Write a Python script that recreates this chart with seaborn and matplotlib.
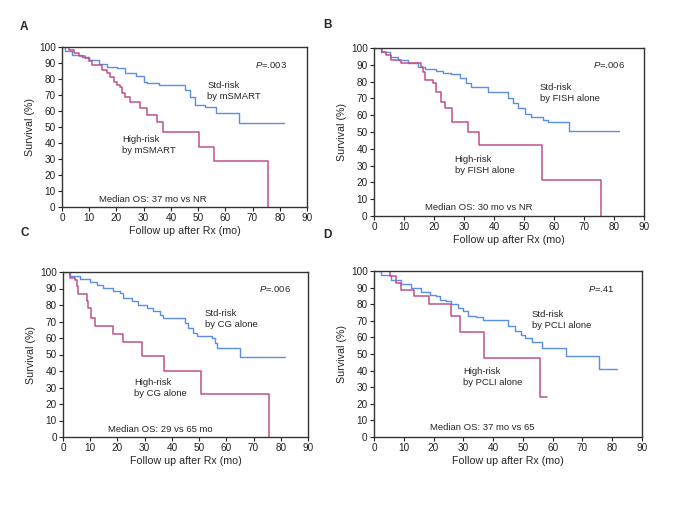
import matplotlib
matplotlib.use("Agg")
import matplotlib.pyplot as plt
import seaborn as sns
import pandas as pd

sns.set_style("ticks")
plt.rcParams['font.family'] = ['Liberation Sans', 'DejaVu Sans']
plt.rcParams['mathtext.fontset'] = 'custom'
plt.rcParams['mathtext.it'] = 'Liberation Sans:italic'
plt.rcParams['mathtext.rm'] = 'Liberation Sans'

# ---------------- data ----------------
A_std_t = [0, 1.2, 3.7, 7.4, 9.8, 13.5, 16.5, 20.2, 23.3, 27, 30, 31.3, 35.5, 45.3, 47.2, 49, 52.7, 56.4, 65, 81.5]
A_std_s = [100, 97.3, 95.2, 94, 92, 89.5, 87.8, 86.8, 83.6, 81.6, 78.4, 77.4, 76.3, 73.2, 69, 63.7, 62.7, 58.5, 52.2, 52.2]
A_high_t = [0, 2.5, 4.3, 6.1, 8.6, 9.8, 11, 14.7, 16.5, 17.8, 19, 20.2, 21.4, 22, 23.3, 25, 28.8, 31.2, 35, 37, 50.5, 56, 75.5]
A_high_s = [100, 98, 96.2, 94.5, 93, 91, 89, 85.7, 83.6, 81.5, 78.4, 76.3, 75.3, 71, 69, 65.8, 61.6, 57.4, 53.2, 47, 37.5, 28.5, 0]

B_std_t = [0, 2.4, 5.2, 8, 11.3, 14.7, 16.9, 20.8, 23, 25.8, 28.6, 30.8, 32.4, 38, 44.7, 46.3, 48, 50.2, 52.4, 56.3, 58, 65, 81.5]
B_std_s = [100, 97.8, 94.8, 92.9, 90.9, 88.9, 87.5, 86.5, 84.9, 84.3, 81.9, 79, 77, 74, 70, 67, 64, 61, 59, 57, 56, 50.6, 50.6]
B_high_t = [0, 2.6, 4.1, 5.8, 9.1, 15.8, 16.3, 17, 19.7, 20.8, 22.4, 23.6, 26, 31.3, 35, 56, 75.5]
B_high_s = [100, 97.8, 95.8, 92.9, 90.9, 88.9, 85.9, 81, 79, 74, 68, 64, 56, 50.2, 42.3, 21.4, 0]

C_std_t = [0, 2.6, 6.2, 9.9, 12.4, 14.8, 18.5, 20.9, 22.2, 25.2, 27.7, 30.7, 33.2, 35.6, 36.8, 44.8, 46, 47.9, 49.1, 54.6, 55.8, 56.4, 65, 81.5]
C_std_s = [100, 97.8, 95.8, 93.7, 92.3, 90.3, 88.3, 87.3, 84.2, 82.2, 80.2, 78.2, 76.2, 74.1, 72.1, 69.1, 66, 63, 61, 60, 57, 53.9, 48.3, 48.3]
C_high_t = [0, 2.6, 4.4, 5, 5.6, 8.7, 9.3, 10.2, 11.8, 18.5, 22.2, 28.9, 37.2, 50.6, 75.8]
C_high_s = [100, 96.4, 95.4, 91.3, 86.7, 82.2, 78.2, 72.1, 67.1, 62.4, 57.6, 49.3, 39.8, 26.3, 0]

D_std_t = [0, 2.5, 5.8, 9.2, 12.5, 15.9, 18.7, 20.9, 22.1, 24.3, 26, 28.2, 29.9, 31.6, 34.4, 36.6, 45, 47.3, 49.5, 50.6, 53, 56.5, 64.6, 75.6, 81.5]
D_std_s = [100, 97.4, 94.8, 92.2, 89.8, 87.3, 85.3, 84.7, 82.7, 81.7, 80.1, 77.7, 75.7, 72.7, 72.1, 70.7, 66.7, 63.7, 61.6, 59.6, 57, 53.6, 48.6, 41, 41]
D_high_t = [0, 5.3, 7.5, 9, 13.3, 18.4, 25.8, 28.8, 37, 55.7, 58]
D_high_s = [100, 96.8, 92.8, 88.8, 84.7, 80.3, 73.1, 63, 47.6, 24.1, 24.1]

panel_letters = ["A", "B", "C", "D"]
p_values = ["$P$=.003", "$P$=.006", "$P$=.006", "$P$=.41"]
std_labels = ["Std-risk\nby mSMART", "Std-risk\nby FISH alone", "Std-risk\nby CG alone", "Std-risk\nby PCLI alone"]
high_labels = ["High-risk\nby mSMART", "High-risk\nby FISH alone", "High-risk\nby CG alone", "High-risk\nby PCLI alone"]
median_labels = ["Median OS: 37 mo vs NR", "Median OS: 30 mo vs NR", "Median OS: 29 vs 65 mo", "Median OS: 37 mo vs 65"]
x_ticks = list(range(0, 100, 10))
y_ticks = list(range(0, 110, 10))

curves = [
    (A_std_t, A_std_s, A_high_t, A_high_s),
    (B_std_t, B_std_s, B_high_t, B_high_s),
    (C_std_t, C_std_s, C_high_t, C_high_s),
    (D_std_t, D_std_s, D_high_t, D_high_s),
]

# ---------------- layout ----------------
W, H = 689, 508
fig = plt.figure(figsize=(W / 100, H / 100), dpi=100)
fig.patch.set_facecolor("white")

# axes boxes in pixels: left, top, right, bottom
boxes = [(62, 47, 307, 207), (374, 48, 644, 216), (63, 272, 308, 437), (374, 271, 642, 437)]
letter_pos = [(24, 27), (327, 25), (25, 233), (327, 235)]
p_pos = [(71, 89), (73, 90), (72, 90), (72, 89.4)]
std_pos = [(53.3, 72.5), (55.2, 73.2), (52, 71.5), (53, 70.5)]
high_pos = [(22, 38.5), (26.9, 30.5), (26, 29.5), (30, 36.3)]
med_pos = [(13.5, 5), (17, 5), (16.6, 4.4), (18.7, 5.8)]

BLUE = "#5b8ee6"
PINK = "#c2508c"
FS = 7.2
AFS = 6.8

for i in range(4):
    l, t, r, b = boxes[i]
    ax = fig.add_axes([l / W, (H - b) / H, (r - l) / W, (b - t) / H])
    st, ss, ht, hs = curves[i]
    df_std = pd.DataFrame({"time": st, "surv": ss})
    df_high = pd.DataFrame({"time": ht, "surv": hs})
    sns.lineplot(data=df_std, x="time", y="surv", ax=ax, color=BLUE, lw=1.0,
                 drawstyle="steps-post", estimator=None, sort=False)
    sns.lineplot(data=df_high, x="time", y="surv", ax=ax, color=PINK, lw=1.1,
                 drawstyle="steps-post", estimator=None, sort=False)
    ax.set_xlim(0, 90)
    ax.set_ylim(0, 100)
    ax.set_xticks(x_ticks)
    ax.set_yticks(y_ticks)
    ax.tick_params(labelsize=FS, length=3, width=0.8, pad=1.5, colors="#222222")
    for sp in ax.spines.values():
        sp.set_visible(True)
        sp.set_linewidth(1.0)
        sp.set_color("#333333")
    ax.set_xlabel("Follow up after Rx (mo)", fontsize=FS + 0.5, labelpad=2)
    ax.set_ylabel("Survival (%)", fontsize=FS + 0.5, labelpad=3)
    ax.text(*p_pos[i], p_values[i], fontsize=AFS, ha="left", va="center")
    ax.text(*std_pos[i], std_labels[i], fontsize=AFS, ha="left", va="center", linespacing=1.3)
    ax.text(*high_pos[i], high_labels[i], fontsize=AFS, ha="left", va="center", linespacing=1.3)
    ax.text(*med_pos[i], median_labels[i], fontsize=AFS, ha="left", va="center")
    lx, ly = letter_pos[i]
    fig.text(lx / W, 1 - ly / H, panel_letters[i], fontsize=8.5, fontweight="bold",
             ha="center", va="center")

fig.savefig("out.png", dpi=100, facecolor="white")
